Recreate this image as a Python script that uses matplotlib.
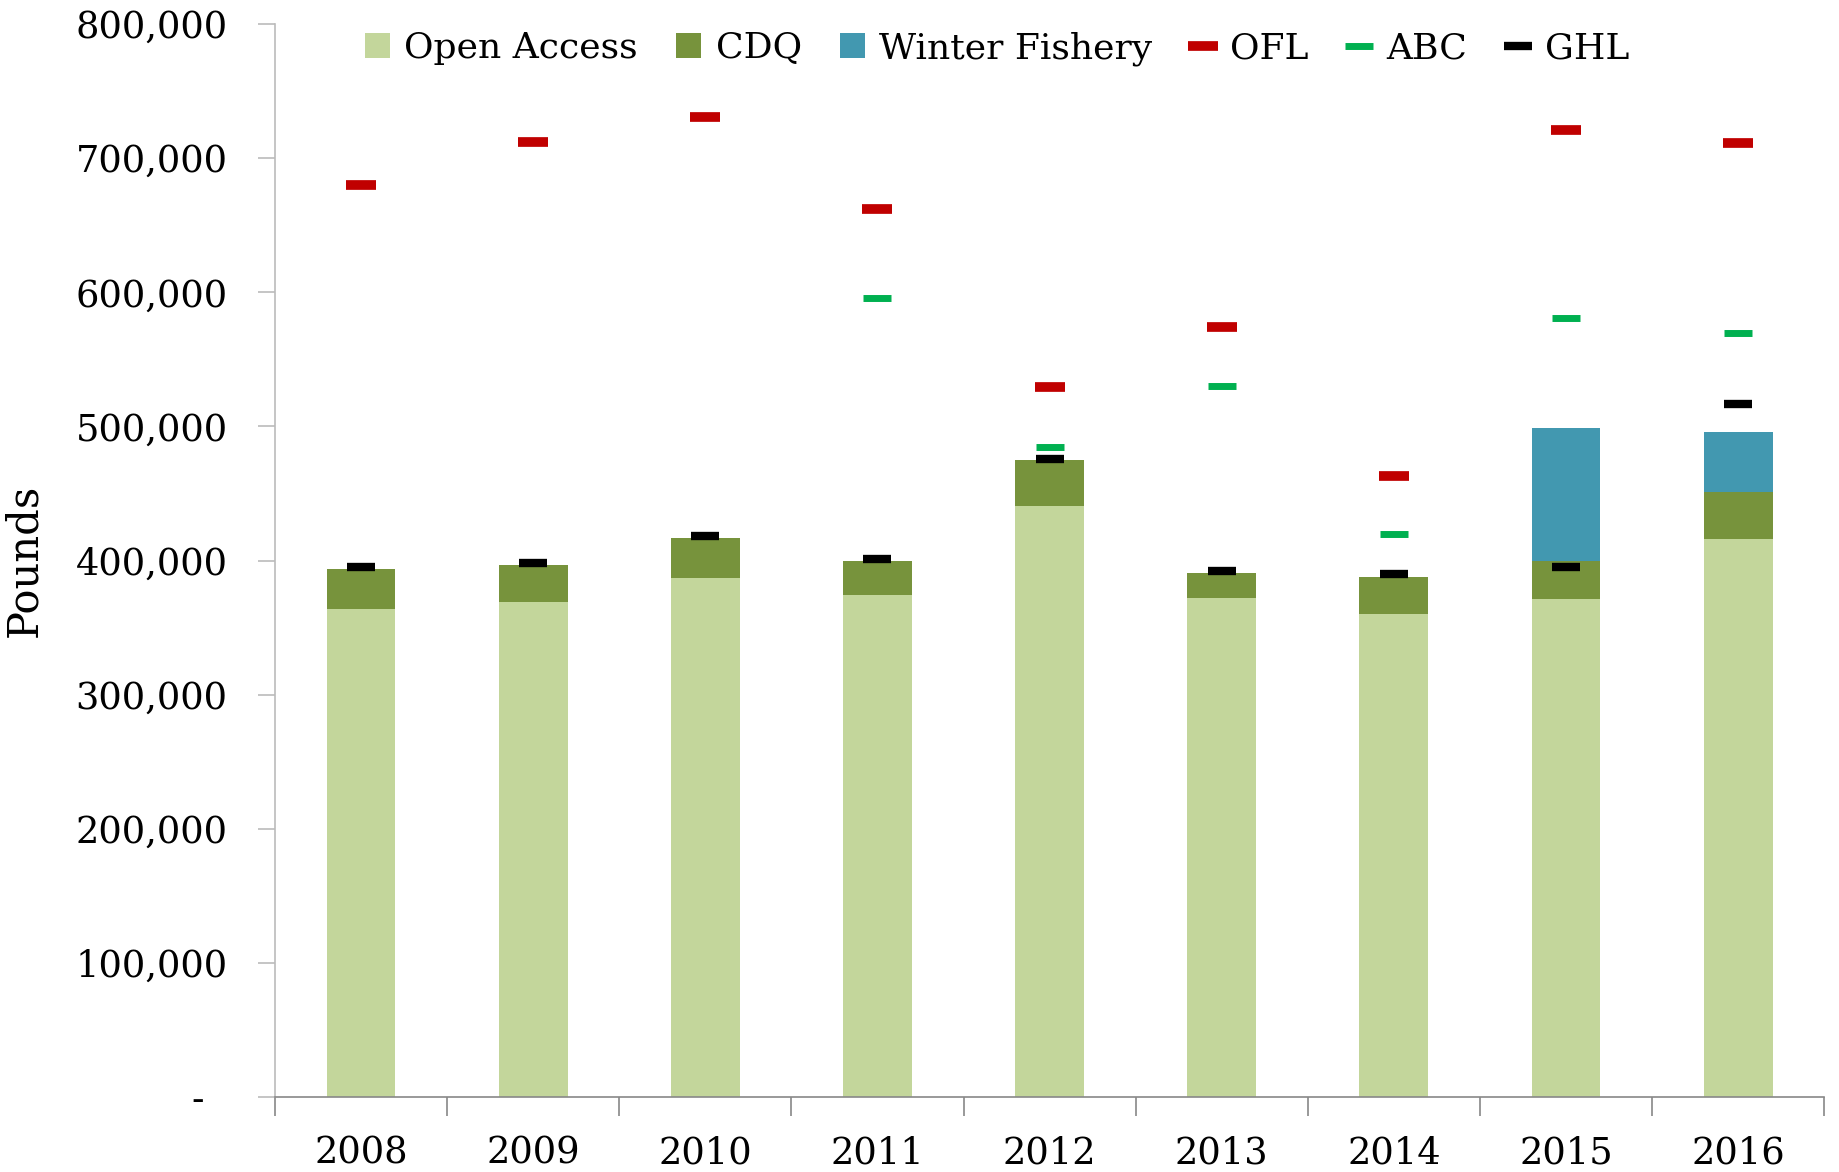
import numpy as np
import matplotlib
matplotlib.use("Agg")
import matplotlib.pyplot as plt
from matplotlib.ticker import FuncFormatter, MultipleLocator

years = ["2008", "2009", "2010", "2011", "2012", "2013", "2014", "2015", "2016"]
open_access = [364000, 369000, 387000, 374000, 441000, 372000, 360000, 371000, 416000]
cdq = [30000, 28000, 30000, 26000, 34000, 19000, 28000, 29000, 35000]
winter = [0, 0, 0, 0, 0, 0, 0, 99000, 45000]
ofl = [680000, 712000, 731000, 662000, 529000, 574000, 463000, 721000, 711000]
abc = [np.nan, np.nan, np.nan, 596000, 485000, 530000, 420000, 581000, 570000]
ghl = [395000, 398000, 418000, 401000, 476000, 392000, 390000, 395000, 517000]

plt.rcParams['font.family'] = ['DejaVu Serif']

fig = plt.figure(figsize=(18.39, 11.72), dpi=100)
ax = fig.add_axes([0.1495, 0.064, 0.8425, 0.9155])

x = np.arange(len(years))
oa = np.array(open_access)
cd = np.array(cdq)
wf = np.array(winter)

w = 0.40
b1 = ax.bar(x, oa, w, color='#C3D69B', label='Open Access', zorder=2)
b2 = ax.bar(x, cd, w, bottom=oa, color='#77933C', label='CDQ', zorder=2)
b3 = ax.bar(x, wf, w, bottom=oa + cd, color='#4298B0', label='Winter Fishery', zorder=2)

l1, = ax.plot(x, ofl, ls='none', marker='_', ms=22, mew=7, color='#C00000', label='OFL', zorder=3)
l2, = ax.plot(x, abc, ls='none', marker='_', ms=20, mew=5, color='#00B050', label='ABC', zorder=3)
l3, = ax.plot(x, ghl, ls='none', marker='_', ms=20, mew=6, color='black', label='GHL', zorder=4)

ax.set_xlim(-0.5, len(years) - 0.5)
ax.set_ylim(0, 800000)
ax.yaxis.set_major_locator(MultipleLocator(100000))
ax.yaxis.set_major_formatter(FuncFormatter(lambda v, p: '-  ' if v == 0 else f'{v:,.0f}'))

ax.set_xticks(x)
ax.set_xticklabels(years)
ax.set_xticks(np.arange(-0.5, len(years)), minor=True)
ax.tick_params(axis='x', which='major', length=0, pad=28, labelsize=26.5)
ax.tick_params(axis='x', which='minor', length=14, color='#888888', width=1.2)
ax.tick_params(axis='y', length=12, color='#bbbbbb', width=1.2, labelsize=26.5, pad=22)

for s in ['top', 'right']:
    ax.spines[s].set_visible(False)
ax.spines['left'].set_color('#bbbbbb')
ax.spines['left'].set_linewidth(1.2)
ax.spines['bottom'].set_color('#888888')
ax.spines['bottom'].set_linewidth(1.2)

ax.set_ylabel('Pounds', fontsize=30, labelpad=22)

ax.legend([b1, b2, b3, l1, l2, l3], ['Open Access', 'CDQ', 'Winter Fishery', 'OFL', 'ABC', 'GHL'],
          loc='center', bbox_to_anchor=(0.466, 0.977), ncol=6, frameon=False,
          fontsize=26, handlelength=0.7, handletextpad=0.4, columnspacing=1.05,
          borderaxespad=0)

fig.savefig('out.png', dpi=100)
